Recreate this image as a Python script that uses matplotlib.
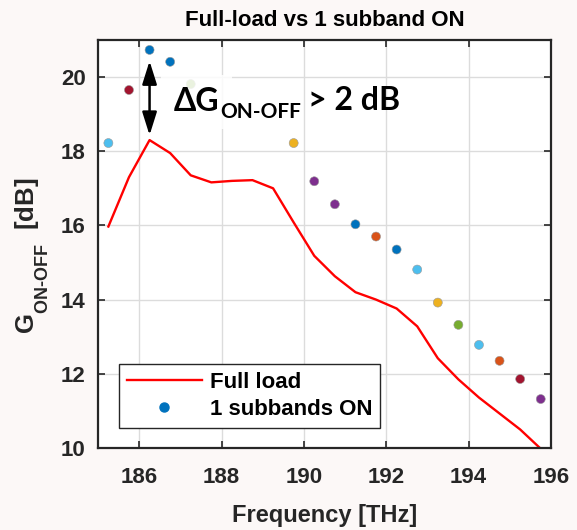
import matplotlib
matplotlib.use('Agg')
import matplotlib.pyplot as plt
from matplotlib.lines import Line2D
import matplotlib._mathtext as mt

# --- Data ---
freq_full = [185.25, 185.75, 186.25, 186.75, 187.25, 187.75, 188.25, 188.75,
             189.25, 189.75, 190.25, 190.75, 191.25, 191.75, 192.25, 192.75,
             193.25, 193.75, 194.25, 194.75, 195.25, 195.75]
gain_full = [15.97, 17.30, 18.30, 17.95, 17.35, 17.16, 17.20, 17.22,
             17.00, 16.08, 15.18, 14.63, 14.20, 14.00, 13.76, 13.28,
             12.42, 11.85, 11.36, 10.93, 10.50, 9.98]

freq_on = [185.25, 185.75, 186.25, 186.75, 187.25, 189.75, 190.25, 190.75,
           191.25, 191.75, 192.25, 192.75, 193.25, 193.75, 194.25, 194.75,
           195.25, 195.75]
gain_on = [18.22, 19.65, 20.73, 20.41, 19.81, 18.22, 17.19, 16.57,
           16.03, 15.70, 15.35, 14.81, 13.92, 13.32, 12.78, 12.35,
           11.86, 11.32]
dot_colors = ['#4DBEEE', '#A2142F', '#0072BD', '#0072BD', '#77AC30', '#EDB120',
              '#7E2F8E', '#7E2F8E', '#0072BD', '#D95319', '#0072BD', '#4DBEEE',
              '#EDB120', '#77AC30', '#4DBEEE', '#D95319', '#A2142F', '#7E2F8E']

x_ticks = [186, 188, 190, 192, 194, 196]
y_ticks = [10, 12, 14, 16, 18, 20]

# --- Style ---
plt.rcParams['font.family'] = ['Liberation Sans', 'DejaVu Sans']
plt.rcParams['font.weight'] = 'bold'
plt.rcParams['mathtext.fontset'] = 'custom'
plt.rcParams['mathtext.rm'] = 'Liberation Sans:bold'
plt.rcParams['mathtext.it'] = 'Liberation Sans:bold'
plt.rcParams['mathtext.bf'] = 'Liberation Sans:bold'
# MATLAB drops subscripts lower than mathtext does
if hasattr(mt, 'FontConstantsBase'):
    mt.FontConstantsBase.sub1 = 1.0

fig = plt.figure(figsize=(5.77, 5.30), dpi=100, facecolor='#fcf8f7')
ax = fig.add_axes([0.170, 0.1547, 0.785, 0.770])
ax.set_facecolor('white')

ax.plot(freq_full, gain_full, color='red', lw=1.7, zorder=2)
ax.scatter(freq_on, gain_on, s=42, c=dot_colors, edgecolors='#9a9a9a',
           linewidths=0.4, zorder=2)

# double arrow showing the ON-OFF gap at the peak
ipk = freq_full.index(186.25)
ion = freq_on.index(186.25)
ax.annotate('', xy=(freq_on[ion], gain_on[ion]), xytext=(freq_full[ipk], gain_full[ipk]),
            arrowprops=dict(arrowstyle='<|-|>,head_length=0.7,head_width=0.22',
                            color='black', lw=1.8, mutation_scale=20,
                            shrinkA=3.5, shrinkB=8))

# annotation text
t1 = ax.text(186.83, 19.08, '\u0394G', fontsize=23, fontweight='bold',
             family=['Lato', 'DejaVu Sans'], va='baseline', zorder=4,
             bbox=dict(facecolor='white', alpha=0.85, edgecolor='none', pad=9))
t2 = ax.annotate('ON-OFF', xy=(1, 0), xycoords=t1, xytext=(1, -1),
                 textcoords='offset points', fontsize=15, fontweight='bold',
                 family=['Lato', 'DejaVu Sans'], va='baseline', zorder=4)
t3 = ax.annotate('> 2 dB', xy=(1, 0), xycoords=(t2, t1), xytext=(5, 4.5),
                 textcoords='offset points', fontsize=23, fontweight='bold',
                 family=['Lato', 'DejaVu Sans'], va='baseline', zorder=4)

ax.set_xlim(185, 196)
ax.set_ylim(10, 21)
ax.set_xticks(x_ticks)
ax.set_yticks(y_ticks)
ax.tick_params(direction='in', length=5, width=1.2, top=True, right=True,
               labelsize=16, colors='#262626')
ax.tick_params(axis='x', pad=14)
ax.tick_params(axis='y', pad=9)
ax.grid(True, color='#dcdcdc', lw=1)
for sp in ax.spines.values():
    sp.set_linewidth(1.6)
    sp.set_color('#262626')

ax.set_title('Full-load vs 1 subband ON', fontsize=16, fontweight='bold', pad=10)
ax.set_xlabel('Frequency [THz]', fontsize=17, fontweight='bold', color='#262626',
              labelpad=11)
ax.set_ylabel(r'G$_{\mathrm{ON\text{-}OFF}}$  [dB]', fontsize=18.5, fontweight='bold',
              color='#262626', labelpad=8)
ax.yaxis.label.set_y(0.47)

handles = [Line2D([], [], color='red', lw=1.7),
           Line2D([], [], color='#0072BD', marker='o', ls='none', markersize=6.5)]
leg = ax.legend(handles, ['Full load', '1 subbands ON'], loc='lower left',
                bbox_to_anchor=(0.046, 0.049), borderaxespad=0, fontsize=16,
                handlelength=3.4, handletextpad=0.35, fancybox=False, framealpha=1,
                edgecolor='#262626', borderpad=0.35, labelspacing=0.3)
leg.get_frame().set_linewidth(1.0)

fig.savefig('out.png', dpi=100, facecolor=fig.get_facecolor())
